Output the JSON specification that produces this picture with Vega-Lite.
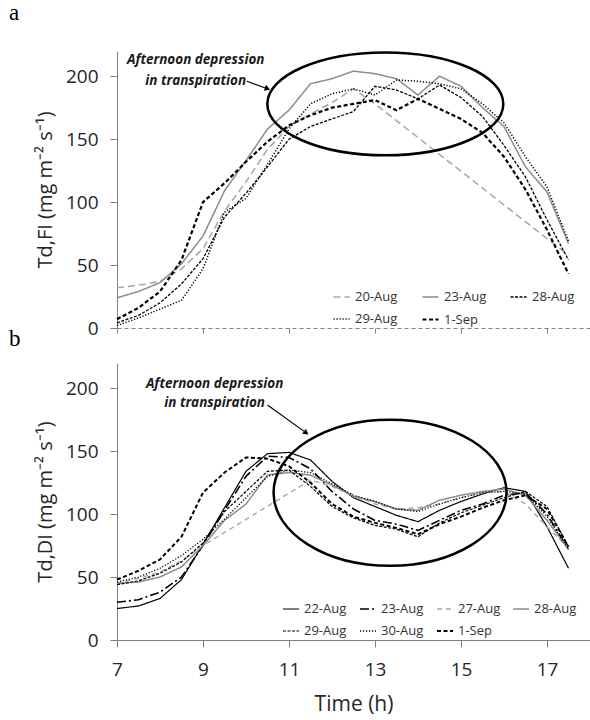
{
  "$schema": "https://vega.github.io/schema/vega-lite/v6.json",
  "padding": {"left": 9, "top": 2, "right": 0, "bottom": 2},
  "autosize": {"type": "pad"},
  "bounds": "flush",
  "spacing": 35,
  "config": {
    "view": {"stroke": null},
    "font": "Open Sans",
    "axis": {"grid": false, "domainColor": "#808080", "tickColor": "#808080", "labelColor": "#262626", "titleColor": "#262626", "labelFont": "Open Sans", "titleFont": "Open Sans", "titleFontWeight": "normal", "labelFontSize": 19, "titleFontSize": 20, "labelFlush": false},
    "legend": {"labelFont": "Open Sans", "labelFontSize": 13, "labelColor": "#333333", "symbolType": "stroke", "symbolSize": 256, "symbolStrokeWidth": 1.5, "labelOffset": 4}
  },
  "resolve": {"scale": {"color": "independent", "strokeDash": "independent", "strokeWidth": "independent", "x": "independent", "y": "independent"}},
  "datasets": {
    "a": [
      {"s":"20-Aug","t":7,"v":32},{"s":"20-Aug","t":7.5,"v":34},{"s":"20-Aug","t":8,"v":37},{"s":"20-Aug","t":8.5,"v":47},{"s":"20-Aug","t":9,"v":63},{"s":"20-Aug","t":9.5,"v":93},{"s":"20-Aug","t":10,"v":116},{"s":"20-Aug","t":10.5,"v":142},{"s":"20-Aug","t":11,"v":160},{"s":"20-Aug","t":11.5,"v":170},{"s":"20-Aug","t":12,"v":179},{"s":"20-Aug","t":12.5,"v":190},{"s":"20-Aug","t":13,"v":178},{"s":"20-Aug","t":17,"v":71},{"s":"20-Aug","t":17.5,"v":58},
      {"s":"23-Aug","t":7,"v":24},{"s":"23-Aug","t":7.5,"v":29},{"s":"23-Aug","t":8,"v":36},{"s":"23-Aug","t":8.5,"v":51},{"s":"23-Aug","t":9,"v":73},{"s":"23-Aug","t":9.5,"v":109},{"s":"23-Aug","t":10,"v":133},{"s":"23-Aug","t":10.5,"v":158},{"s":"23-Aug","t":11,"v":173},{"s":"23-Aug","t":11.5,"v":194},{"s":"23-Aug","t":12,"v":198},{"s":"23-Aug","t":12.5,"v":204},{"s":"23-Aug","t":13,"v":202},{"s":"23-Aug","t":13.5,"v":198},{"s":"23-Aug","t":14,"v":185},{"s":"23-Aug","t":14.5,"v":200},{"s":"23-Aug","t":15,"v":192},{"s":"23-Aug","t":15.5,"v":175},{"s":"23-Aug","t":16,"v":160},{"s":"23-Aug","t":16.5,"v":128},{"s":"23-Aug","t":17,"v":108},{"s":"23-Aug","t":17.5,"v":67},
      {"s":"28-Aug","t":7,"v":4},{"s":"28-Aug","t":7.5,"v":10},{"s":"28-Aug","t":8,"v":20},{"s":"28-Aug","t":8.5,"v":35},{"s":"28-Aug","t":9,"v":55},{"s":"28-Aug","t":9.5,"v":88},{"s":"28-Aug","t":10,"v":107},{"s":"28-Aug","t":10.5,"v":128},{"s":"28-Aug","t":11,"v":150},{"s":"28-Aug","t":11.5,"v":160},{"s":"28-Aug","t":12,"v":166},{"s":"28-Aug","t":12.5,"v":172},{"s":"28-Aug","t":13,"v":192},{"s":"28-Aug","t":13.5,"v":189},{"s":"28-Aug","t":14,"v":182},{"s":"28-Aug","t":14.5,"v":193},{"s":"28-Aug","t":15,"v":183},{"s":"28-Aug","t":15.5,"v":168},{"s":"28-Aug","t":16,"v":145},{"s":"28-Aug","t":16.5,"v":120},{"s":"28-Aug","t":17,"v":86},{"s":"28-Aug","t":17.5,"v":54},
      {"s":"29-Aug","t":7,"v":2},{"s":"29-Aug","t":7.5,"v":8},{"s":"29-Aug","t":8,"v":15},{"s":"29-Aug","t":8.5,"v":22},{"s":"29-Aug","t":9,"v":47},{"s":"29-Aug","t":9.5,"v":92},{"s":"29-Aug","t":10,"v":103},{"s":"29-Aug","t":10.5,"v":130},{"s":"29-Aug","t":11,"v":158},{"s":"29-Aug","t":11.5,"v":178},{"s":"29-Aug","t":12,"v":186},{"s":"29-Aug","t":12.5,"v":190},{"s":"29-Aug","t":13,"v":185},{"s":"29-Aug","t":13.5,"v":197},{"s":"29-Aug","t":14,"v":196},{"s":"29-Aug","t":14.5,"v":194},{"s":"29-Aug","t":15,"v":190},{"s":"29-Aug","t":15.5,"v":178},{"s":"29-Aug","t":16,"v":163},{"s":"29-Aug","t":16.5,"v":136},{"s":"29-Aug","t":17,"v":112},{"s":"29-Aug","t":17.5,"v":69},
      {"s":"1-Sep","t":7,"v":7},{"s":"1-Sep","t":7.5,"v":16},{"s":"1-Sep","t":8,"v":29},{"s":"1-Sep","t":8.5,"v":54},{"s":"1-Sep","t":9,"v":100},{"s":"1-Sep","t":9.5,"v":115},{"s":"1-Sep","t":10,"v":132},{"s":"1-Sep","t":10.5,"v":148},{"s":"1-Sep","t":11,"v":161},{"s":"1-Sep","t":11.5,"v":169},{"s":"1-Sep","t":12,"v":175},{"s":"1-Sep","t":12.5,"v":178},{"s":"1-Sep","t":13,"v":181},{"s":"1-Sep","t":13.5,"v":173},{"s":"1-Sep","t":14,"v":182},{"s":"1-Sep","t":14.5,"v":174},{"s":"1-Sep","t":15,"v":166},{"s":"1-Sep","t":15.5,"v":155},{"s":"1-Sep","t":16,"v":136},{"s":"1-Sep","t":16.5,"v":110},{"s":"1-Sep","t":17,"v":78},{"s":"1-Sep","t":17.5,"v":43}
    ],
    "b": [
      {"s":"22-Aug","t":7,"v":25},{"s":"22-Aug","t":7.5,"v":27},{"s":"22-Aug","t":8,"v":33},{"s":"22-Aug","t":8.5,"v":48},{"s":"22-Aug","t":9,"v":76},{"s":"22-Aug","t":9.5,"v":105},{"s":"22-Aug","t":10,"v":134},{"s":"22-Aug","t":10.5,"v":148},{"s":"22-Aug","t":11,"v":149},{"s":"22-Aug","t":11.5,"v":143},{"s":"22-Aug","t":12,"v":126},{"s":"22-Aug","t":12.5,"v":113},{"s":"22-Aug","t":13,"v":106},{"s":"22-Aug","t":13.5,"v":99},{"s":"22-Aug","t":14,"v":94},{"s":"22-Aug","t":14.5,"v":103},{"s":"22-Aug","t":15,"v":110},{"s":"22-Aug","t":15.5,"v":116},{"s":"22-Aug","t":16,"v":121},{"s":"22-Aug","t":16.5,"v":118},{"s":"22-Aug","t":17,"v":90},{"s":"22-Aug","t":17.5,"v":57},
      {"s":"23-Aug","t":7,"v":30},{"s":"23-Aug","t":7.5,"v":32},{"s":"23-Aug","t":8,"v":38},{"s":"23-Aug","t":8.5,"v":50},{"s":"23-Aug","t":9,"v":75},{"s":"23-Aug","t":9.5,"v":103},{"s":"23-Aug","t":10,"v":130},{"s":"23-Aug","t":10.5,"v":146},{"s":"23-Aug","t":11,"v":145},{"s":"23-Aug","t":11.5,"v":136},{"s":"23-Aug","t":12,"v":118},{"s":"23-Aug","t":12.5,"v":104},{"s":"23-Aug","t":13,"v":95},{"s":"23-Aug","t":13.5,"v":92},{"s":"23-Aug","t":14,"v":87},{"s":"23-Aug","t":14.5,"v":95},{"s":"23-Aug","t":15,"v":103},{"s":"23-Aug","t":15.5,"v":108},{"s":"23-Aug","t":16,"v":115},{"s":"23-Aug","t":16.5,"v":117},{"s":"23-Aug","t":17,"v":100},{"s":"23-Aug","t":17.5,"v":72},
      {"s":"27-Aug","t":7,"v":45},{"s":"27-Aug","t":7.5,"v":49},{"s":"27-Aug","t":8,"v":54},{"s":"27-Aug","t":8.5,"v":63},{"s":"27-Aug","t":9,"v":75},{"s":"27-Aug","t":11.5,"v":127},{"s":"27-Aug","t":12,"v":122},{"s":"27-Aug","t":12.5,"v":115},{"s":"27-Aug","t":13,"v":108},{"s":"27-Aug","t":13.5,"v":104},{"s":"27-Aug","t":14,"v":105},{"s":"27-Aug","t":14.5,"v":108},{"s":"27-Aug","t":15,"v":113},{"s":"27-Aug","t":15.5,"v":117},{"s":"27-Aug","t":16,"v":118},{"s":"27-Aug","t":16.5,"v":108},{"s":"27-Aug","t":17,"v":90},{"s":"27-Aug","t":17.5,"v":73},
      {"s":"28-Aug","t":7,"v":45},{"s":"28-Aug","t":7.5,"v":46},{"s":"28-Aug","t":8,"v":50},{"s":"28-Aug","t":8.5,"v":58},{"s":"28-Aug","t":9,"v":75},{"s":"28-Aug","t":9.5,"v":95},{"s":"28-Aug","t":10,"v":108},{"s":"28-Aug","t":10.5,"v":131},{"s":"28-Aug","t":11,"v":133},{"s":"28-Aug","t":11.5,"v":131},{"s":"28-Aug","t":12,"v":123},{"s":"28-Aug","t":12.5,"v":114},{"s":"28-Aug","t":13,"v":110},{"s":"28-Aug","t":13.5,"v":104},{"s":"28-Aug","t":14,"v":103},{"s":"28-Aug","t":14.5,"v":111},{"s":"28-Aug","t":15,"v":115},{"s":"28-Aug","t":15.5,"v":118},{"s":"28-Aug","t":16,"v":120},{"s":"28-Aug","t":16.5,"v":115},{"s":"28-Aug","t":17,"v":95},{"s":"28-Aug","t":17.5,"v":72},
      {"s":"29-Aug","t":7,"v":44},{"s":"29-Aug","t":7.5,"v":47},{"s":"29-Aug","t":8,"v":53},{"s":"29-Aug","t":8.5,"v":62},{"s":"29-Aug","t":9,"v":77},{"s":"29-Aug","t":9.5,"v":102},{"s":"29-Aug","t":10,"v":118},{"s":"29-Aug","t":10.5,"v":134},{"s":"29-Aug","t":11,"v":135},{"s":"29-Aug","t":11.5,"v":122},{"s":"29-Aug","t":12,"v":106},{"s":"29-Aug","t":12.5,"v":97},{"s":"29-Aug","t":13,"v":91},{"s":"29-Aug","t":13.5,"v":88},{"s":"29-Aug","t":14,"v":82},{"s":"29-Aug","t":14.5,"v":93},{"s":"29-Aug","t":15,"v":101},{"s":"29-Aug","t":15.5,"v":107},{"s":"29-Aug","t":16,"v":113},{"s":"29-Aug","t":16.5,"v":118},{"s":"29-Aug","t":17,"v":106},{"s":"29-Aug","t":17.5,"v":74},
      {"s":"30-Aug","t":7,"v":46},{"s":"30-Aug","t":7.5,"v":50},{"s":"30-Aug","t":8,"v":57},{"s":"30-Aug","t":8.5,"v":67},{"s":"30-Aug","t":9,"v":80},{"s":"30-Aug","t":9.5,"v":96},{"s":"30-Aug","t":10,"v":113},{"s":"30-Aug","t":10.5,"v":130},{"s":"30-Aug","t":11,"v":135},{"s":"30-Aug","t":11.5,"v":133},{"s":"30-Aug","t":12,"v":124},{"s":"30-Aug","t":12.5,"v":115},{"s":"30-Aug","t":13,"v":110},{"s":"30-Aug","t":13.5,"v":104},{"s":"30-Aug","t":14,"v":102},{"s":"30-Aug","t":14.5,"v":108},{"s":"30-Aug","t":15,"v":113},{"s":"30-Aug","t":15.5,"v":117},{"s":"30-Aug","t":16,"v":118},{"s":"30-Aug","t":16.5,"v":116},{"s":"30-Aug","t":17,"v":98},{"s":"30-Aug","t":17.5,"v":72},
      {"s":"1-Sep","t":7,"v":48},{"s":"1-Sep","t":7.5,"v":55},{"s":"1-Sep","t":8,"v":64},{"s":"1-Sep","t":8.5,"v":82},{"s":"1-Sep","t":9,"v":117},{"s":"1-Sep","t":9.5,"v":133},{"s":"1-Sep","t":10,"v":145},{"s":"1-Sep","t":10.5,"v":144},{"s":"1-Sep","t":11,"v":138},{"s":"1-Sep","t":11.5,"v":125},{"s":"1-Sep","t":12,"v":108},{"s":"1-Sep","t":12.5,"v":98},{"s":"1-Sep","t":13,"v":93},{"s":"1-Sep","t":13.5,"v":89},{"s":"1-Sep","t":14,"v":84},{"s":"1-Sep","t":14.5,"v":92},{"s":"1-Sep","t":15,"v":98},{"s":"1-Sep","t":15.5,"v":105},{"s":"1-Sep","t":16,"v":111},{"s":"1-Sep","t":16.5,"v":115},{"s":"1-Sep","t":17,"v":104},{"s":"1-Sep","t":17.5,"v":74}
    ],
    "one": [{"k": 1}]
  },
  "vconcat": [
    {
      "width": 473,
      "height": 277,
      "title": {"text": "a", "anchor": "start", "frame": "group", "dx": -108, "offset": 22, "font": "Liberation Serif", "fontSize": 23, "fontWeight": "normal", "color": "#000000"},
      "layer": [
        {
          "data": {"name": "a"},
          "mark": {"type": "line"},
          "encoding": {
            "x": {"field": "t", "type": "quantitative", "scale": {"domain": [7, 18], "nice": false, "zero": false},
                  "axis": {"values": [7, 9, 11, 13, 15, 17], "labels": false, "title": null, "domainDash": [4, 3], "tickSize": 5}},
            "y": {"field": "v", "type": "quantitative", "scale": {"domain": [0, 220], "nice": false},
                  "axis": {"values": [0, 50, 100, 150, 200], "title": "Td,FI (mg m⁻² s⁻¹)", "tickSize": 7, "labelPadding": 12, "titlePadding": 10}},
            "color": {"field": "s", "type": "nominal",
                      "scale": {"domain": ["20-Aug", "23-Aug", "28-Aug", "29-Aug", "1-Sep"], "range": ["#a6a6a6", "#8c8c8c", "#000000", "#000000", "#000000"]},
                      "legend": {"title": null, "orient": "none", "legendX": 215, "legendY": 237, "direction": "horizontal", "columns": 3, "columnPadding": 20, "rowPadding": 6}},
            "strokeDash": {"field": "s", "type": "nominal",
                           "scale": {"domain": ["20-Aug", "23-Aug", "28-Aug", "29-Aug", "1-Sep"], "range": [[7, 4], [1, 0], [3, 1.5], [1.2, 1.8], [4, 2.5]]}},
            "strokeWidth": {"field": "s", "type": "nominal",
                            "scale": {"type": "ordinal", "domain": ["20-Aug", "23-Aug", "28-Aug", "29-Aug", "1-Sep"], "range": [1.5, 1.5, 1.3, 1.5, 2.2]}, "legend": null}
          }
        },
        {
          "data": {"name": "one"},
          "mark": {"type": "point", "shape": "M 1 0 C 1 0.2408 0.5523 0.436 0 0.436 C -0.5523 0.436 -1 0.2408 -1 0 C -1 -0.2408 -0.5523 -0.436 0 -0.436 C 0.5523 -0.436 1 -0.2408 1 0 Z", "size": 55696, "filled": false, "stroke": "#000000", "strokeWidth": 2.5, "opacity": 1},
          "encoding": {"x": {"datum": 13.24}, "y": {"datum": 178}}
        },
        {
          "data": {"name": "one"},
          "mark": {"type": "rule", "stroke": "#000000", "strokeWidth": 1.2},
          "encoding": {"x": {"datum": 10.02}, "y": {"datum": 196}, "x2": {"datum": 10.5}, "y2": {"datum": 190}}
        },
        {
          "data": {"name": "one"},
          "mark": {"type": "point", "shape": "triangle-right", "size": 40, "filled": true, "color": "#000000", "opacity": 1, "angle": 21},
          "encoding": {"x": {"datum": 10.5}, "y": {"datum": 190}}
        },
        {
          "data": {"name": "one"},
          "mark": {"type": "text", "font": "Open Sans", "fontSize": 13.5, "fontStyle": "italic", "fontWeight": "bold", "align": "center", "baseline": "alphabetic", "lineHeight": 21, "color": "#1a1a1a"},
          "encoding": {"x": {"datum": 8.83}, "y": {"datum": 210}, "text": {"value": ["Afternoon depression", "in transpiration"]}}
        }
      ]
    },
    {
      "width": 473,
      "height": 277,
      "title": {"text": "b", "anchor": "start", "frame": "group", "dx": -108, "offset": 12, "font": "Liberation Serif", "fontSize": 23, "fontWeight": "normal", "color": "#000000"},
      "layer": [
        {
          "data": {"name": "b"},
          "mark": {"type": "line"},
          "encoding": {
            "x": {"field": "t", "type": "quantitative", "scale": {"domain": [7, 18], "nice": false, "zero": false},
                  "axis": {"values": [7, 9, 11, 13, 15, 17], "title": "Time (h)", "tickSize": 7, "labelPadding": 13, "titlePadding": 14, "titleFontSize": 21}},
            "y": {"field": "v", "type": "quantitative", "scale": {"domain": [0, 220], "nice": false},
                  "axis": {"values": [0, 50, 100, 150, 200], "title": "Td,DI (mg m⁻² s⁻¹)", "tickSize": 7, "labelPadding": 12, "titlePadding": 10}},
            "color": {"field": "s", "type": "nominal",
                      "scale": {"domain": ["22-Aug", "23-Aug", "27-Aug", "28-Aug", "29-Aug", "30-Aug", "1-Sep"], "range": ["#000000", "#000000", "#a6a6a6", "#8c8c8c", "#000000", "#000000", "#000000"]},
                      "legend": {"title": null, "orient": "none", "legendX": 165, "legendY": 237, "direction": "horizontal", "columns": 4, "columnPadding": 9, "rowPadding": 6}},
            "strokeDash": {"field": "s", "type": "nominal",
                           "scale": {"domain": ["22-Aug", "23-Aug", "27-Aug", "28-Aug", "29-Aug", "30-Aug", "1-Sep"], "range": [[1, 0], [9, 3, 2, 3], [5, 4], [1, 0], [3, 1.5], [1.2, 1.8], [4, 2.5]]}},
            "strokeWidth": {"field": "s", "type": "nominal",
                            "scale": {"type": "ordinal", "domain": ["22-Aug", "23-Aug", "27-Aug", "28-Aug", "29-Aug", "30-Aug", "1-Sep"], "range": [1.2, 1.6, 1.4, 1.5, 1.2, 1.3, 2]}, "legend": null}
          }
        },
        {
          "data": {"name": "one"},
          "mark": {"type": "point", "shape": "M 1 0 C 1 0.3461 0.5523 0.627 0 0.627 C -0.5523 0.627 -1 0.3461 -1 0 C -1 -0.3461 -0.5523 -0.627 0 -0.627 C 0.5523 -0.627 1 -0.3461 1 0 Z", "size": 54289, "filled": false, "stroke": "#000000", "strokeWidth": 2.5, "opacity": 1},
          "encoding": {"x": {"datum": 13.35}, "y": {"datum": 117}}
        },
        {
          "data": {"name": "one"},
          "mark": {"type": "rule", "stroke": "#000000", "strokeWidth": 1.2},
          "encoding": {"x": {"datum": 10.5}, "y": {"datum": 186.6}, "x2": {"datum": 11.4}, "y2": {"datum": 164.5}}
        },
        {
          "data": {"name": "one"},
          "mark": {"type": "point", "shape": "triangle-right", "size": 40, "filled": true, "color": "#000000", "opacity": 1, "angle": 37},
          "encoding": {"x": {"datum": 11.4}, "y": {"datum": 164.5}}
        },
        {
          "data": {"name": "one"},
          "mark": {"type": "text", "font": "Open Sans", "fontSize": 13.5, "fontStyle": "italic", "fontWeight": "bold", "align": "center", "baseline": "alphabetic", "lineHeight": 19, "color": "#1a1a1a"},
          "encoding": {"x": {"datum": 9.27}, "y": {"datum": 200}, "text": {"value": ["Afternoon depression", "in transpiration"]}}
        }
      ]
    }
  ]
}
